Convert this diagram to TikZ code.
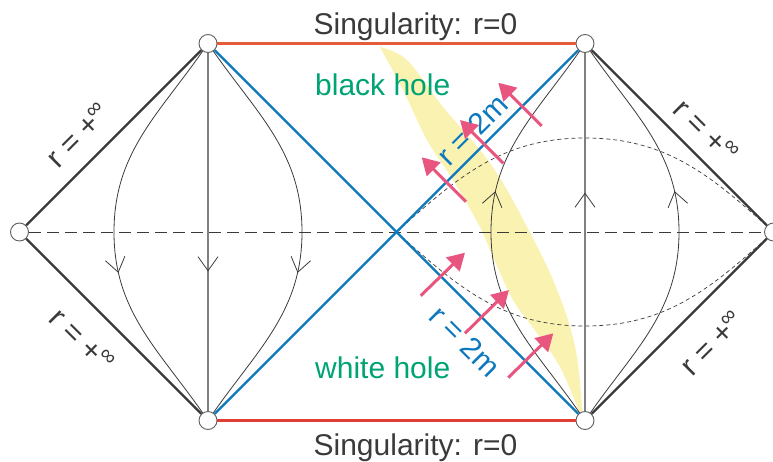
\documentclass[tikz,border=0pt]{standalone}
\usepackage{fontspec}
\setmainfont{Liberation Sans}
\usetikzlibrary{calc}
\usetikzlibrary{arrows.meta}
\usetikzlibrary{decorations.markings}

\definecolor{ink}{RGB}{58,58,58}
\definecolor{hblue}{RGB}{12,120,190}
\definecolor{hgreen}{RGB}{0,163,116}
\definecolor{hpink}{RGB}{232,86,128}
\definecolor{hyellow}{RGB}{249,242,176}
\definecolor{sorange}{RGB}{228,92,58}
\definecolor{sred}{RGB}{224,62,52}

\newcommand{\rinf}{r = +\kern-1pt\raisebox{0.35em}{\fontsize{22}{22}\selectfont ∞}}

\tikzset{
  vertex/.style={circle,draw=ink!80,fill=white,line width=0.9pt,minimum size=18pt,inner sep=0pt},
  edge/.style={ink,line width=2.2pt},
  horizon/.style={hblue,line width=2.4pt},
  singular/.style={line width=3.5pt},
  flux/.style={hpink,line width=3pt,-{Triangle[length=17pt,width=19pt]}},
  orbit/.style={ink,line width=0.8pt},
  static/.style={gray,line width=1.6pt},
  slice/.style={ink,line width=0.9pt,dash pattern=on 12pt off 6pt},
  timeslice/.style={ink,line width=0.7pt,dash pattern=on 4pt off 3pt},
  big/.style={font=\fontsize{30}{36}\selectfont},
  midarrow/.style={postaction={decorate},decoration={markings,
    mark=at position #1 with {\arrow{Straight Barb[length=14pt,width=20pt,line width=0.8pt,color=ink]}}}},
}

\begin{document}
\begin{tikzpicture}[x=1pt,y=1pt,inner sep=0pt]
\def\u{188.5}
\useasboundingbox (-396.5,-229) rectangle (376.5,232);

% strip
\fill[hyellow] plot[smooth,tension=0.55] coordinates {(-16.5,185) (6.5,142) (30.5,92) (56.5,52) (83.5,5) (96.5,-25) (116.5,-68) (140.5,-101) (163.5,-135) (183.5,-181) (186.5,-186)}
  -- plot[smooth,tension=0.55] coordinates {(185.5,-175) (180.5,-125) (170.5,-85) (153.5,-41) (130.5,5) (106.5,49) (83.5,82) (46.5,125) (10.5,172) (-16.5,185)} -- cycle;

\node[vertex] (a11) at (-2*\u, 0) {};
\coordinate (a12) at (0, 0);
\node[vertex] (a13) at (2*\u, 0) {};
\node[vertex] (a21) at (-\u, \u) {};
\node[vertex] (a22) at (\u, \u) {};
\node[vertex] (a01) at (-\u, -\u) {};
\node[vertex] (a02) at (\u, -\u) {};

\draw[slice] (a11) -- (a13);
\draw[timeslice] (a12) to[out=42,in=180] (\u,94) to[out=0,in=138] (a13);
\draw[timeslice] (a12) to[out=-42,in=180] (\u,-94) to[out=0,in=-138] (a13);

\draw[orbit,midarrow=0.6] (a21) to[out=-125,in=90] (-\u-94,0) to[out=-90,in=125] (a01);
\draw[orbit,midarrow=0.6] (a21) to[out=-55,in=90] (-\u+94,0) to[out=-90,in=55] (a01);
\draw[static,midarrow=0.61] (a21) -- (a01);
\draw[orbit,midarrow=0.6] (a02) to[out=125,in=-90] (\u-94,0) to[out=90,in=-125] (a22);
\draw[orbit,midarrow=0.6] (a02) to[out=55,in=-90] (\u+94,0) to[out=90,in=-55] (a22);
\draw[static,midarrow=0.61] (a02) -- (a22);

\draw[edge] (a11) -- (a21);
\draw[edge] (a11) -- (a01);
\draw[edge] (a22) -- (a13);
\draw[edge] (a02) -- (a13);
\draw[horizon] (a21) -- (a02);
\draw[horizon] (a01) -- (a22);
\draw[singular,sorange] (a21) -- (a22);
\draw[singular,sred] (a01) -- (a02);

\draw[flux] (145.2,106) -- (101.8,149.3);
\draw[flux] (106.8,68.7) -- (63.5,112);
\draw[flux] (69.5,30.3) -- (25.2,74.7);
\draw[flux] (24.2,-63.7) -- (68.5,-20.7);
\draw[flux] (68.5,-101.3) -- (112.5,-58);
\draw[flux] (111.8,-145.7) -- (156.8,-101.3);

\node[big,ink,anchor=base] (top) at (19,197) {Singularity: r=0};
\node[big,ink,anchor=base] (bot) at (19,-223) {Singularity: r=0};
\node[big,hgreen,anchor=base west] (bh) at (-81.5,137) {black hole};
\node[big,hgreen,anchor=base west] (wh) at (-81.5,-146) {white hole};
\node[big,hblue,rotate=45] (h1) at (75.5,102) {r = 2m};
\node[big,hblue,rotate=-45] (h2) at (68.5,-109) {r = 2m};
\node[big,ink,rotate=45] (i1) at (-318.5,97) {\rinf};
\node[big,ink,rotate=-45] (i2) at (-314.5,-108) {\rinf};
\node[big,ink,rotate=-45] (i3) at (309.5,101) {\rinf};
\node[big,ink,rotate=45] (i4) at (315.5,-111) {\rinf};
\end{tikzpicture}
\end{document}
